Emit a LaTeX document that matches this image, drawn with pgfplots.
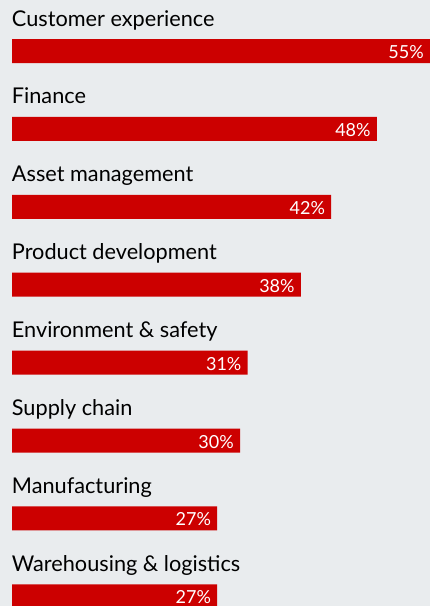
\documentclass[border=0pt]{standalone}
\usepackage{pgfplots}
\pgfplotsset{compat=1.18}
\usepackage{fontspec}
\setmainfont{Lato}
\definecolor{bg}{HTML}{E9ECEE}
\definecolor{barred}{HTML}{CC0000}

\begin{document}
\begin{tikzpicture}[trim axis left, trim axis right]
  \begin{axis}[
      xbar,
      scale only axis,
      width=430pt,
      height=606pt,
      xmin=-1.579, xmax=55,
      ymin=-0.6547, ymax=7.1245,
      y dir=reverse,
      bar width=24pt,
      axis background/.style={fill=bg},
      axis line style={draw=none},
      tick style={draw=none},
      xtick=\empty,
      ytick={0,...,7},
      yticklabels={Customer experience, Finance, Asset management, Product development,
        Environment \& safety, Supply chain, Manufacturing, Warehousing \& logistics},
      yticklabel style={anchor=base west, inner sep=0pt, xshift=16pt, yshift=25pt,
        font=\fontsize{21.7}{24}\selectfont, text=black},
      /pgf/number format/assume math mode=true,
      nodes near coords={\pgfmathprintnumber{\pgfplotspointmeta}\%},
      every node near coord/.append style={anchor=base east, inner sep=0pt,
        xshift=-6pt, yshift=-7.5pt, text=white, font=\fontsize{18}{20}\selectfont},
    ]
    \addplot[fill=barred, draw=none] coordinates {
      (55,0) (48,1) (42,2) (38,3) (31,4) (30,5) (27,6) (27,7)
    };
  \end{axis}
\end{tikzpicture}
\end{document}
